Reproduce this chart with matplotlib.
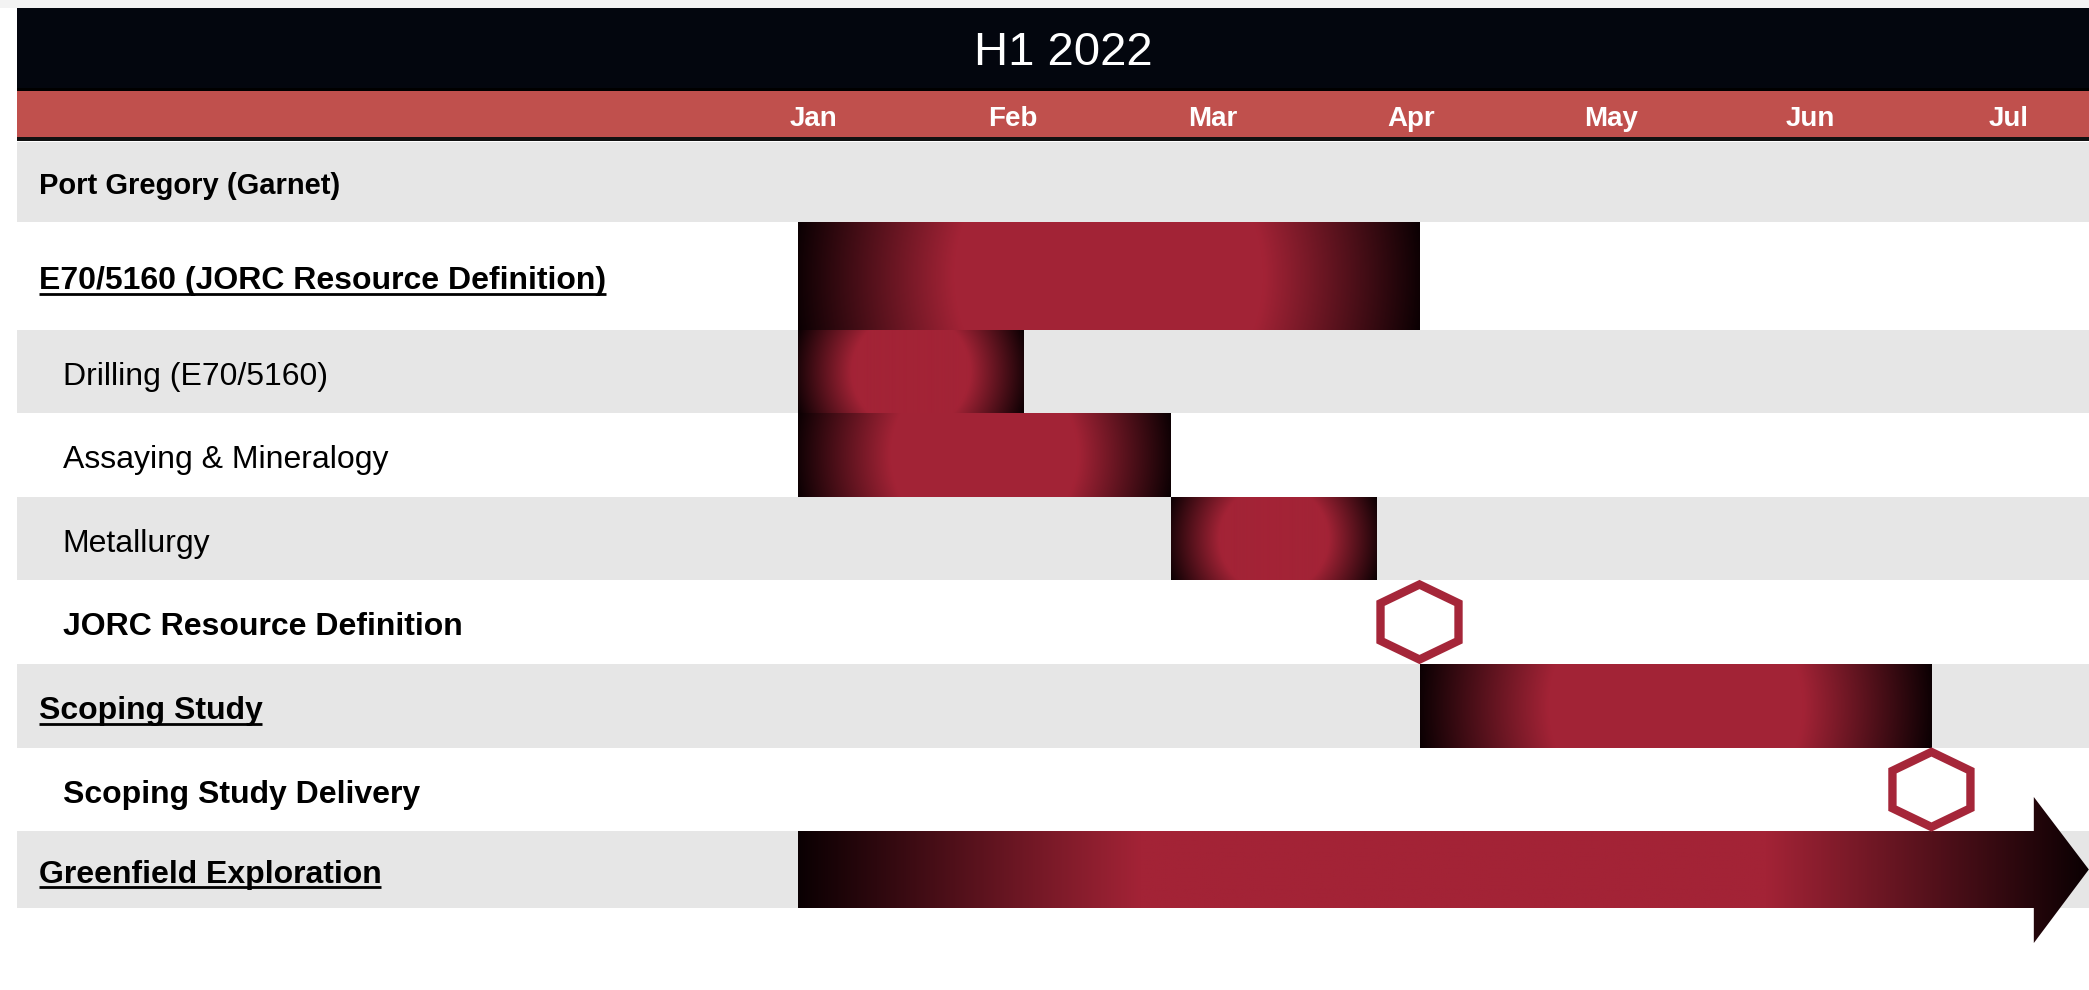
import numpy as np
import matplotlib
matplotlib.use("Agg")
import matplotlib.pyplot as plt
from matplotlib.patches import Rectangle, Polygon
from matplotlib.colors import to_rgb

plt.rcParams["font.family"] = ["Liberation Sans", "DejaVu Sans"]

# Timeline content (x values are months from 1 Jan 2022)
title = "H1 2022"
months = ["Jan", "Feb", "Mar", "Apr", "May", "Jun", "Jul"]
tasks = [
    "Port Gregory (Garnet)",
    "E70/5160 (JORC Resource Definition)",
    "Drilling (E70/5160)",
    "Assaying & Mineralogy",
    "Metallurgy",
    "JORC Resource Definition",
    "Scoping Study",
    "Scoping Study Delivery",
    "Greenfield Exploration",
]
bar_start = [np.nan, 0.0, 0.0, 0.0, 1.87, np.nan, 3.12, np.nan, np.nan]
bar_end = [np.nan, 3.12, 1.13, 1.87, 2.90, np.nan, 5.69, np.nan, np.nan]
milestone = [np.nan, np.nan, np.nan, np.nan, np.nan, 3.12, np.nan, 5.69, np.nan]
ongoing_start = [np.nan] * 8 + [0.0]
ongoing_end = [np.nan] * 8 + [6.48]

# label styling per row
indent = [0, 0, 1, 1, 1, 1, 0, 1, 0]
bold = [True, True, False, False, False, True, True, True, True]
underline = [False, True, False, False, False, False, True, False, True]
label_size = [21, 23, 23, 23, 23, 23, 23, 23, 23]

# page layout in pixels
W, H = 2089, 990
LEFT = 17
MONTH_PX = 199.2
JAN_PX = 798
row_edges = [142, 222, 330, 413, 497, 580, 664, 748, 831, 908]
gray_row = [True, False, True, False, True, False, True, False, True]

RED = np.array(to_rgb("#A32336"))
DARK = np.array(to_rgb("#0A0002"))
HEX_RED = "#A52639"
CORE = 0.49

fig = plt.figure(figsize=(W / 100, H / 100), dpi=100)
fig.patch.set_facecolor("white")

# pixel-space axes for the page furniture
pg = fig.add_axes([0, 0, 1, 1])
pg.set_xlim(0, W)
pg.set_ylim(H, 0)
pg.axis("off")

# timeline axes: x in months, y in pixels
ax = fig.add_axes([0, 0, 1, 1])
ax.set_zorder(2)
ax.axis("off")

# header bands
pg.add_patch(Rectangle((0, 0), W, 8, color="#F3F3F3", lw=0))
pg.add_patch(Rectangle((LEFT, 8), W - LEFT, 82, color="#03060E", lw=0))
pg.add_patch(Rectangle((LEFT, 88), W - LEFT, 3, color="#000000", lw=0))
pg.add_patch(Rectangle((LEFT, 91), W - LEFT, 46, color="#C0504D", lw=0))
pg.add_patch(Rectangle((LEFT, 137), W - LEFT, 4, color="#111111", lw=0))
pg.text(1063, 53, title, color="white", fontsize=34, ha="center", va="center")

# alternating row backgrounds and task labels
labels = []
for i, name in enumerate(tasks):
    top, bot = row_edges[i], row_edges[i + 1]
    if gray_row[i]:
        pg.add_patch(Rectangle((LEFT, top), W - LEFT, bot - top, color="#E6E6E6", lw=0))
    x = 38.6 if indent[i] == 0 else 62.6
    base = (top + bot) / 2 + 0.52 * label_size[i] + 1.5
    t = pg.text(x, base, name, fontsize=label_size[i], va="baseline", ha="left",
                fontweight="bold" if bold[i] else "normal", color="black")
    labels.append((t, base))

# month labels on the red band
for i, m in enumerate(months):
    ax.text(i + 0.08, 119, m, color="white", fontsize=20, fontweight="bold",
            ha="center", va="center")


def radial_bar(x0, x1, y0, y1):
    w = (x1 - x0) * MONTH_PX
    h = y1 - y0
    nx, ny = max(int(round(w)), 2), max(int(round(h)), 2)
    dx = ((np.arange(nx) + 0.5) / nx - 0.5) * w
    dy = ((np.arange(ny) + 0.5) / ny - 0.5) * h
    r = np.hypot(dx[None, :], dy[:, None]) / np.hypot(w / 2, h / 2)
    t = np.clip((r - CORE) / (1 - CORE), 0, 1)[..., None]
    img = RED * (1 - t) + DARK * t
    ax.imshow(img, extent=(x0, x1, y1, y0), aspect="auto",
              interpolation="bilinear", zorder=3)


def hexagon(cx, cy):
    hw = 39 / MONTH_PX
    hh = 37.5
    pts = [(cx, cy - hh), (cx + hw, cy - hh / 2), (cx + hw, cy + hh / 2),
           (cx, cy + hh), (cx - hw, cy + hh / 2), (cx - hw, cy - hh / 2)]
    ax.add_patch(Polygon(pts, closed=True, facecolor="white", edgecolor=HEX_RED,
                         lw=6.0, joinstyle="miter", zorder=5))


def arrow_bar(x0, x1, y0, y1):
    head = 55 / MONTH_PX
    hy0, hy1 = y0 - 34, y1 + 35
    pts = [(x0, y0), (x1 - head, y0), (x1 - head, hy0), (x1, (y0 + y1) / 2),
           (x1 - head, hy1), (x1 - head, y1), (x0, y1)]
    clip = Polygon(pts, closed=True, facecolor="none", edgecolor="none")
    ax.add_patch(clip)
    f = np.linspace(0, 1, 1200)
    stops = [0, 0.265, 0.75, 1.0]
    cols = [DARK, RED, RED, DARK]
    row = np.stack([np.interp(f, stops, [c[k] for c in cols]) for k in range(3)], axis=-1)
    img = np.repeat(row[None, :, :], 4, axis=0)
    im = ax.imshow(img, extent=(x0, x1, hy1, hy0), aspect="auto",
                   interpolation="bilinear", zorder=3)
    im.set_clip_path(clip)


for i in range(len(tasks)):
    top, bot = row_edges[i], row_edges[i + 1]
    if not np.isnan(bar_start[i]):
        radial_bar(bar_start[i], bar_end[i], top, bot)
    if not np.isnan(ongoing_start[i]):
        arrow_bar(ongoing_start[i], ongoing_end[i], top, bot)
    if not np.isnan(milestone[i]):
        hexagon(milestone[i], (top + bot) / 2)

ax.set_xlim(-JAN_PX / MONTH_PX, (W - JAN_PX) / MONTH_PX)
ax.set_ylim(H, 0)

# underline the section headings
fig.canvas.draw()
inv = pg.transData.inverted()
for (t, base), ul in zip(labels, underline):
    if not ul:
        continue
    bb = t.get_window_extent()
    xa = inv.transform((bb.x0, 0))[0]
    xb = inv.transform((bb.x1, 0))[0]
    pg.plot([xa, xb], [base + 4.5, base + 4.5], color="black", lw=2.0,
            solid_capstyle="butt")

fig.savefig("out.png", dpi=100, facecolor="white")
